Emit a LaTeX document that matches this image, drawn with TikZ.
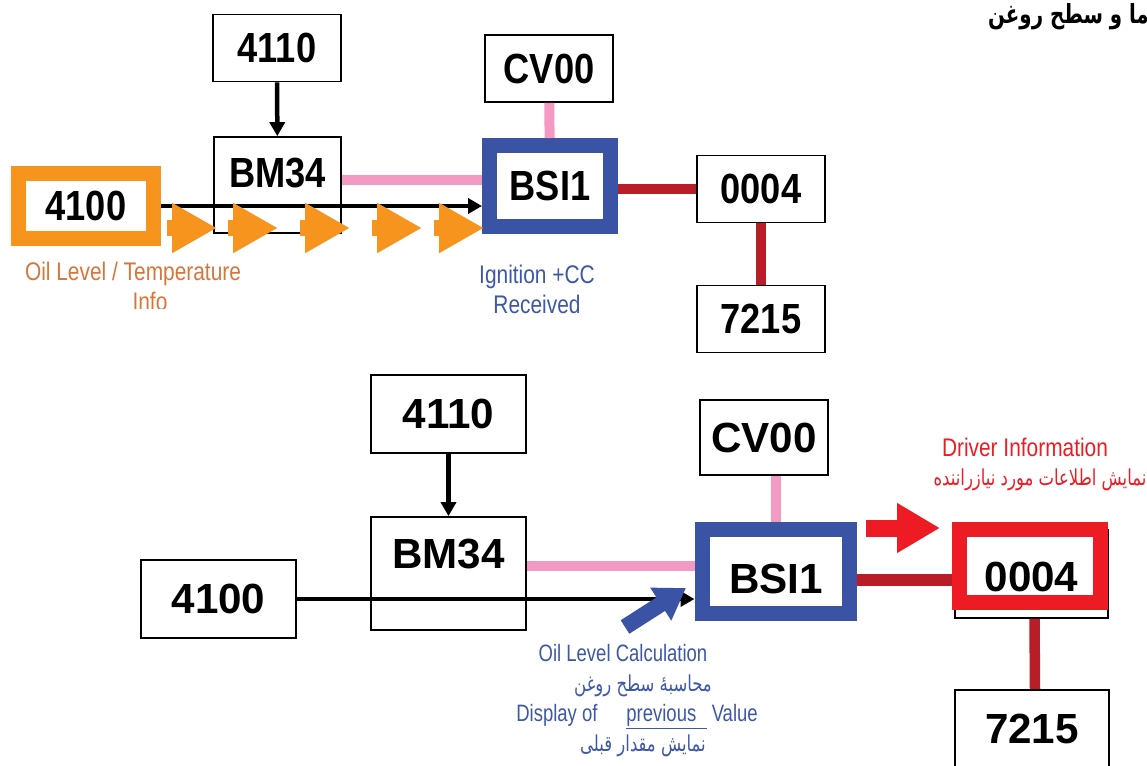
\documentclass[tikz,border=0pt]{standalone}
\usepackage{fontspec}
\setmainfont{Liberation Sans}
\newfontfamily\topboxfont[FakeStretch=0.86]{Liberation Sans Bold}
\newfontfamily\boxfont{Liberation Sans Bold}
\newfontfamily\narrowfont[FakeStretch=0.82]{Liberation Sans}
\newfontfamily\narrowerfont[FakeStretch=0.78]{Liberation Sans}
\newfontfamily\arabicfont[Script=Arabic, FakeStretch=0.75]{DejaVu Sans}
\TeXXeTstate=1
\usetikzlibrary{positioning,calc,arrows.meta}
\definecolor{hlOrange}{RGB}{247,148,29}
\definecolor{txtOrange}{RGB}{214,118,60}
\definecolor{frameBlue}{RGB}{58,83,164}
\definecolor{txtBlue}{RGB}{62,88,168}
\definecolor{busPink}{RGB}{242,154,193}
\definecolor{busRed}{RGB}{185,30,40}
\definecolor{hlRed}{RGB}{237,28,36}

\begin{document}
\begin{tikzpicture}[x=0.02cm, y=-0.02cm,
    ecu/.style={draw, line width=0.035cm, fill=white, inner sep=0pt, minimum width=2.56cm, minimum height=1.34cm, font=\topboxfont\fontsize{24}{24}\selectfont},
    ecub/.style={ecu, minimum width=3.1cm, minimum height=1.56cm, font=\boxfont\fontsize{24}{24}\selectfont},
    orangeframe/.style={draw=hlOrange, line width=0.3cm, fill=white, inner sep=0pt},
    blueframe/.style={draw=frameBlue, line width=0.3cm, fill=white, inner sep=0pt},
    redframe/.style={draw=hlRed, line width=0.3cm, inner sep=0pt},
    pinkbus/.style={busPink, line width=0.2cm},
    redbus/.style={busRed, line width=0.21cm},
    arr/.style={-{Triangle[length=0.28cm, width=0.3cm]}, line width=0.09cm},
    orangearr/.style={hlOrange, line width=0.32cm, -{Triangle[length=0.9cm, width=0.94cm]}},
    lbl/.style={font=\narrowfont\fontsize{14.5}{17}\selectfont, align=center, inner sep=0pt},
    lblb/.style={font=\narrowerfont\fontsize{13.5}{16}\selectfont, inner sep=0pt},
    arlbl/.style={font=\arabicfont\fontsize{12.5}{14}\selectfont, inner sep=0pt},
]
\clip (0,0) rectangle (1147,765);

% top: oil level info sent to BSI
\node[ecu] (t41) at (277,48) {4110};
\node[ecu, minimum width=2.54cm, minimum height=1.92cm, text height=0.6cm, text depth=0.52cm] (bm1) at (277.5,185) {BM34};
\node[ecu] (cv1) at (549,68.5) {CV00};
\node[blueframe, minimum width=2.42cm, minimum height=1.62cm, font=\topboxfont\fontsize{24}{24}\selectfont] (bsi1) at (550,186) {BSI1};
\node[ecu] (o04) at (761,189) {0004};
\node[ecu] (o72) at (761,319) {7215};
\node[orangeframe, minimum width=2.7cm, minimum height=1.3cm, font=\topboxfont\fontsize{24}{24}\selectfont] (o41) at (86,206) {4100};

\draw[arr] (t41) -- (bm1);
\draw[pinkbus] ([yshift=0.1cm]bm1.east) -- ([yshift=0.1cm]bm1.east -| bsi1.west);
\draw[pinkbus] (cv1) -- (bsi1);
\draw[redbus] (o04.west -| bsi1.east) -- (o04.west);
\draw[redbus] (o04) -- (o72);
\draw[arr] (o41.east) -- (o41.east -| bsi1.west);
\foreach \s in {167,228,300,372,434}
  \draw[orangearr] (\s,228) -- ++(50,0);

\begin{scope}
  \clip (0,0) rectangle (400,308);
  \node[lbl, text=txtOrange] (oilinfo) at (133,286) {Oil Level / Temperature\\\hspace*{0.68cm}Info};
\end{scope}
\node[lbl, text=txtBlue] (ign) at (537,289) {Ignition +CC\\Received};
\node[font=\arabicfont\bfseries\fontsize{15}{17}\selectfont, anchor=east, inner sep=0pt] (title) at (1149,17) {\beginR ما و سطح روغن\endR};

% bottom: BSI shows the stored value
\node[ecub] (t41b) at (448.5,414) {4110};
\node[ecub, minimum height=2.26cm, text height=0.6cm, text depth=0.82cm] (bm2) at (448.5,573.5) {BM34};
\node[ecub] (o41b) at (218.5,599) {4100};
\node[ecu, minimum height=1.5cm, font=\boxfont\fontsize{24}{24}\selectfont] (cv2) at (764,437.5) {CV00};
\node[blueframe, minimum width=2.96cm, minimum height=1.68cm, text height=0.9cm, font=\boxfont\fontsize{24}{24}\selectfont] (bsi2) at (776,571) {BSI1};
\node[ecub, minimum width=3.06cm, minimum height=1.76cm, text height=0.7cm] (o04b) at (1031.5,574) {0004};
\node[ecub, minimum width=3.08cm] (o72b) at (1032,729) {7215};
\node[redframe, minimum width=2.82cm, minimum height=1.46cm] (o04hl) at (1030,566) {};

\draw[arr] (t41b) -- (bm2);
\draw[pinkbus] ([yshift=0.15cm]bm2.east) -- ([yshift=0.15cm]bm2.east -| bsi2.west);
\draw[pinkbus] (bsi2.north |- cv2.south) -- (bsi2.north);
\draw[arr] (o41b.east) -- (o41b.east -| bsi2.west);
\draw[redbus, line width=0.24cm] (bsi2.east |- 0,580) -- (o04hl.west |- 0,580);
\draw[redbus] ([xshift=0.06cm]o04b.south) -- ([xshift=0.06cm]o72b.north);
\draw[hlRed, line width=0.34cm, -{Triangle[length=0.86cm, width=0.94cm]}] (866,528) -- (940,528);
\draw[frameBlue, line width=0.32cm, -{Triangle[length=0.6cm, width=0.74cm]}] (625,627) -- (686,588);

\node[lbl, text=hlRed] (drv) at (1025,447) {Driver Information};
\node[arlbl, text=hlRed] (drvfa) at (1040,480) {\beginR نمایش اطلاعات مورد نیازراننده\endR};
\node[lblb, text=txtBlue] (calc) at (623,653) {Oil Level Calculation};
\node[arlbl, text=txtBlue] (calcfa) at (643,686) {\beginR محاسبهٔ سطح روغن\endR};
\node[lblb, text=txtBlue] (prev) at (637,717) {Display of \quad\underline{previous\ \ } Value};
\node[arlbl, text=txtBlue] (prevfa) at (643,746) {\beginR نمایش مقدار قبلی\endR};
\end{tikzpicture}
\end{document}
